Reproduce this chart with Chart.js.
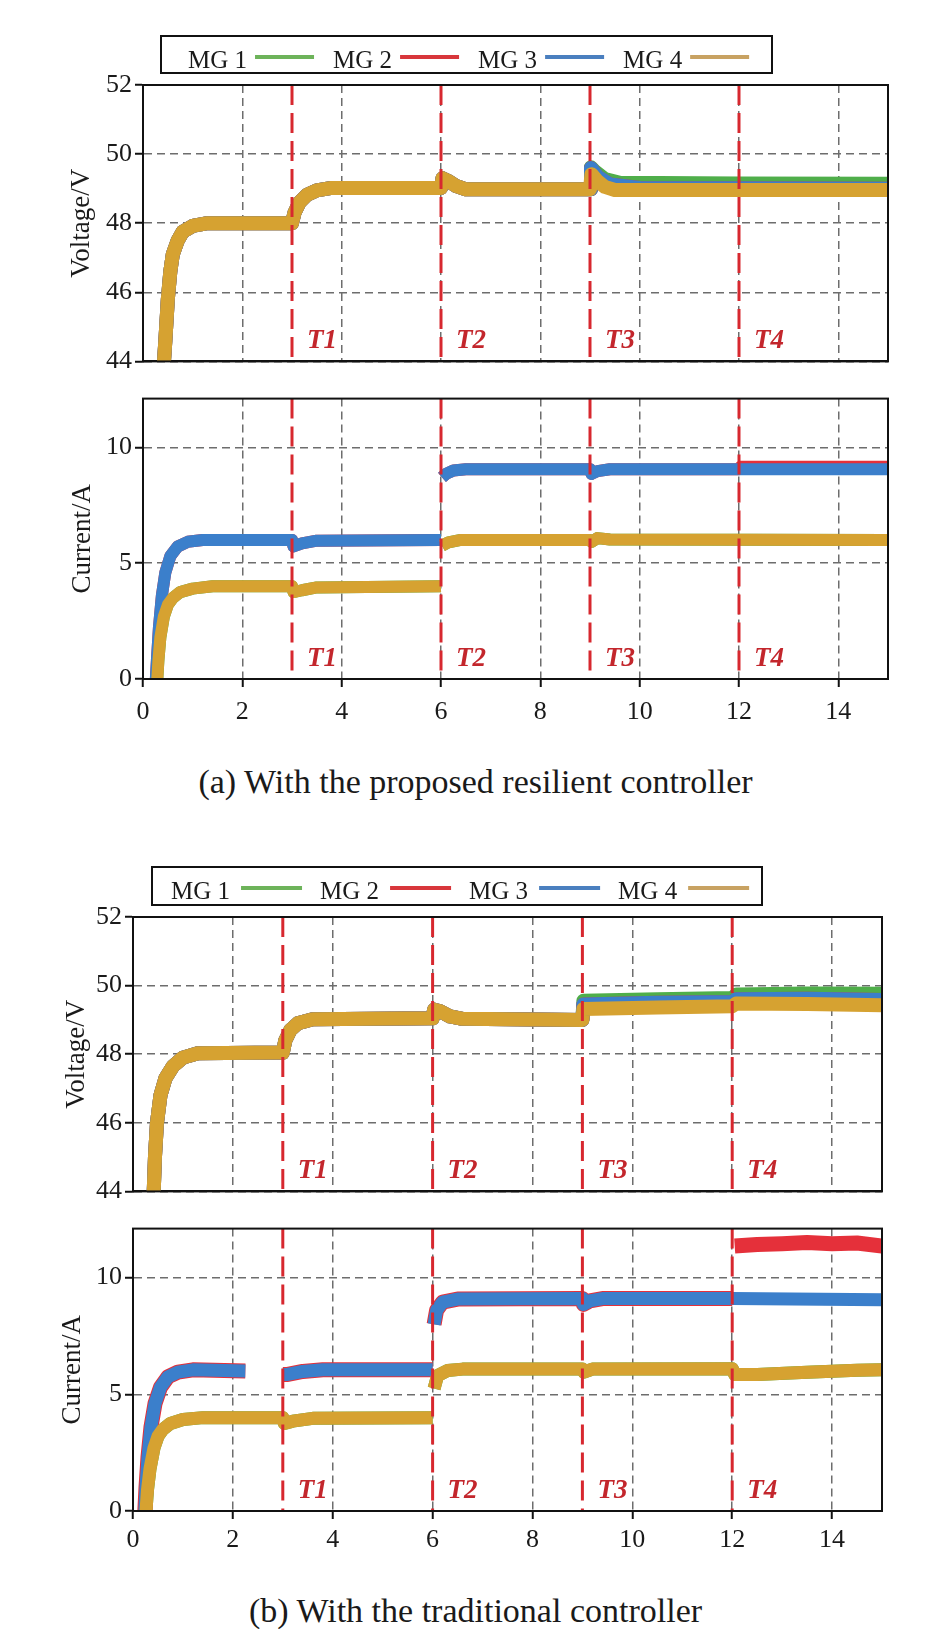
<!DOCTYPE html>
<html>
<head>
<meta charset="utf-8">
<script src="https://cdn.jsdelivr.net/npm/chart.js@4.4.1/dist/chart.umd.min.js"></script>
<style>
  body { margin: 0; background: #fff; width: 951px; height: 1629px; position: relative; }
  .box { position: absolute; left: 0; width: 951px; }
  .cap { position: absolute; left: 0; width: 951px; text-align: center; font-family: "Liberation Serif", "Times New Roman", serif;
         font-size: 34px; line-height: 40px; color: #1a1a1a; }
</style>
</head>
<body>
<div class="box" style="top:0px;height:380px"><canvas id="aV" width="951" height="380"></canvas></div>
<div class="box" style="top:380px;height:345px"><canvas id="aI" width="951" height="345"></canvas></div>
<div class="cap" style="top:762px">(a) With the proposed resilient controller</div>
<div class="box" style="top:830px;height:380px"><canvas id="bV" width="951" height="380"></canvas></div>
<div class="box" style="top:1210px;height:345px"><canvas id="bI" width="951" height="345"></canvas></div>
<div class="cap" style="top:1591px">(b) With the traditional controller</div>

<script>
// ---- data (time in s, value) ----
const seriesNames = ["MG 1", "MG 2", "MG 3", "MG 4"];
const eventTimes = [3, 6, 9, 12];
const eventLabels = ["T1", "T2", "T3", "T4"];
const xTickValues = [0, 2, 4, 6, 8, 10, 12, 14];
const voltTickValues = [44, 46, 48, 50, 52];
const currTickValues = [0, 5, 10];

// (a) proposed controller - voltage
const aVoltMG4 = [[0.40,43.5],[0.45,44.6],[0.50,45.8],[0.55,46.6],[0.60,47.1],[0.70,47.5],[0.80,47.75],[1.0,47.92],[1.3,48.0],[3.0,48.0],
  [3.05,48.3],[3.15,48.6],[3.3,48.82],[3.5,48.95],[3.8,49.02],[6.0,49.02],[6.03,49.3],[6.15,49.22],[6.3,49.08],[6.5,48.98],[9.0,48.98],
  [9.03,49.42],[9.15,49.22],[9.3,49.05],[9.5,48.96],[15,48.96]];
const aVoltMG3 = [[0.40,43.5],[0.45,44.6],[0.50,45.8],[0.55,46.6],[0.60,47.1],[0.70,47.5],[0.80,47.75],[1.0,47.92],[1.3,48.0],[3.0,48.0],
  [3.05,48.3],[3.15,48.6],[3.3,48.82],[3.5,48.95],[3.8,49.02],[6.0,49.02],[6.03,49.3],[6.15,49.22],[6.3,49.08],[6.5,48.98],[9.0,48.98],
  [9.02,49.6],[9.15,49.35],[9.4,49.12],[10,49.02],[15,49.0]];
const aVoltMG2 = aVoltMG3;
const aVoltMG1 = [[0.40,43.5],[0.45,44.6],[0.50,45.8],[0.55,46.6],[0.60,47.1],[0.70,47.5],[0.80,47.75],[1.0,47.92],[1.3,48.0],[3.0,48.0],
  [3.05,48.3],[3.15,48.6],[3.3,48.82],[3.5,48.95],[3.8,49.02],[6.0,49.02],[6.03,49.3],[6.15,49.22],[6.3,49.08],[6.5,48.98],[9.0,48.98],
  [9.02,49.62],[9.1,49.5],[9.3,49.28],[9.6,49.17],[12,49.15],[15,49.14]];

// (a) proposed controller - current
const aCurrMG3 = [[0.25,-0.3],[0.28,0.8],[0.32,2.2],[0.38,3.6],[0.45,4.6],[0.55,5.3],[0.7,5.72],[0.9,5.92],[1.2,6.0],[3.0,6.0],
  [3.03,5.72],[3.2,5.85],[3.5,5.97],[6.0,6.0],[6.01,null],[6.02,8.7],[6.1,8.85],[6.25,9.0],[6.5,9.05],[9.0,9.05],
  [9.03,8.85],[9.15,8.97],[9.4,9.05],[15,9.05]];
const aCurrMG2 = [[0.25,-0.3],[0.28,0.8],[0.32,2.2],[0.38,3.6],[0.45,4.6],[0.55,5.3],[0.7,5.72],[0.9,5.92],[1.2,6.0],[3.0,6.0],
  [3.03,5.72],[3.2,5.85],[3.5,5.97],[6.0,6.0],[6.01,null],[6.02,8.7],[6.1,8.85],[6.25,9.0],[6.5,9.05],[9.0,9.05],
  [9.03,8.85],[9.15,8.97],[9.4,9.05],[12.0,9.05],[12.03,9.16],[15,9.16]];
const aCurrMG4 = [[0.28,-0.3],[0.31,0.8],[0.35,1.8],[0.42,2.7],[0.5,3.2],[0.6,3.5],[0.75,3.75],[1.0,3.9],[1.4,4.0],[3.0,4.0],
  [3.03,3.75],[3.2,3.83],[3.5,3.95],[6.0,4.0],[6.01,null],[6.02,5.75],[6.15,5.9],[6.4,6.0],[9.0,6.0],
  [9.03,5.92],[9.15,6.08],[9.4,6.02],[15,6.0]];
const aCurrMG1 = aCurrMG4;

// (b) traditional controller - voltage
const bVoltMG4 = [[0.41,43.8],[0.44,45.0],[0.48,46.0],[0.55,46.8],[0.65,47.3],[0.8,47.65],[1.0,47.9],[1.3,48.03],[3.0,48.05],
  [3.05,48.4],[3.15,48.7],[3.3,48.9],[3.6,49.02],[6.0,49.05],[6.03,49.3],[6.15,49.25],[6.35,49.1],[6.6,49.03],[9.0,49.0],
  [9.02,49.32],[10.5,49.36],[12.0,49.4],[12.08,49.48],[13.5,49.46],[15,49.43]];
const bVoltMG3 = [[0.41,43.8],[0.44,45.0],[0.48,46.0],[0.55,46.8],[0.65,47.3],[0.8,47.65],[1.0,47.9],[1.3,48.03],[3.0,48.05],
  [3.05,48.4],[3.15,48.7],[3.3,48.9],[3.6,49.02],[6.0,49.05],[6.03,49.3],[6.15,49.25],[6.35,49.1],[6.6,49.03],[9.0,49.0],
  [9.02,49.45],[10.5,49.5],[12.0,49.52],[12.08,49.6],[13.5,49.62],[15,49.58]];
const bVoltMG2 = bVoltMG3;
const bVoltMG1 = [[0.41,43.8],[0.44,45.0],[0.48,46.0],[0.55,46.8],[0.65,47.3],[0.8,47.65],[1.0,47.9],[1.3,48.03],[3.0,48.05],
  [3.05,48.4],[3.15,48.7],[3.3,48.9],[3.6,49.02],[6.0,49.05],[6.03,49.3],[6.15,49.25],[6.35,49.1],[6.6,49.03],[9.0,49.0],
  [9.02,49.56],[10.5,49.6],[12.0,49.64],[12.08,49.74],[13.5,49.77],[15,49.76]];

// (b) traditional controller - current (MG 3 drops out between ~2.2 s and T1)
const bCurrMG3 = [[0.23,-0.3],[0.26,1.0],[0.3,2.3],[0.36,3.6],[0.44,4.6],[0.55,5.3],[0.7,5.75],[0.9,5.95],[1.2,6.05],[2.25,6.0],
  [2.6,null],[3.0,5.85],[3.1,5.85],[3.4,5.98],[3.8,6.05],[6.0,6.05],[6.01,null],[6.03,8.0],[6.08,8.6],[6.2,8.95],[6.5,9.08],
  [9.0,9.1],[9.02,8.85],[9.15,9.0],[9.4,9.1],[12,9.1],[15,9.05]];
const bCurrMG2 = [[0.23,-0.3],[0.26,1.0],[0.3,2.3],[0.36,3.6],[0.44,4.6],[0.55,5.3],[0.7,5.75],[0.9,5.95],[1.2,6.05],[2.25,6.0],
  [2.6,null],[3.0,5.85],[3.1,5.85],[3.4,5.98],[3.8,6.05],[6.0,6.05],[6.01,null],[6.03,8.0],[6.08,8.6],[6.2,8.95],[6.5,9.08],
  [9.0,9.1],[9.02,8.85],[9.15,9.0],[9.4,9.1],[12,9.1],[12.02,null],
  [12.05,11.35],[12.5,11.42],[13,11.45],[13.5,11.5],[14,11.45],[14.5,11.48],[15,11.35]];
const bCurrMG4 = [[0.25,-0.3],[0.29,0.9],[0.34,1.8],[0.42,2.7],[0.5,3.2],[0.6,3.5],[0.75,3.75],[1.0,3.92],[1.4,4.0],[3.0,4.0],
  [3.03,3.75],[3.2,3.85],[3.6,3.97],[6.0,4.0],[6.01,null],[6.03,5.25],[6.1,5.8],[6.3,6.02],[6.6,6.08],[9.0,6.08],
  [9.03,5.95],[9.2,6.08],[12.0,6.1],[12.05,5.85],[12.5,5.85],[13.5,5.95],[14.5,6.03],[15,6.05]];
const bCurrMG1 = bCurrMG4;

// ---- styling ----
const FONT = '"Liberation Serif", "Times New Roman", serif';
const seriesColors = ["#4fae4a", "#e5303a", "#3b7fcb", "#d6a231"];
const legendColors = ["#6db35a", "#d8363b", "#4a7fbf", "#c8a262"];
const seriesOrder = [3, 2, 1, 0]; // MG 4 on top
const gridColor = "#6d6d6d";
const eventColor = "#d7282f";

Chart.defaults.font.family = FONT;

const toXY = arr => arr.map(([x, y]) => ({ x, y }));

const frame = {
  id: "frame",
  afterDatasetsDraw(chart) {
    const { ctx, chartArea: a } = chart;
    ctx.save();
    ctx.strokeStyle = "#111";
    ctx.lineWidth = 2;
    ctx.strokeRect(a.left, a.top, a.right - a.left, a.bottom - a.top);
    ctx.restore();
  }
};

const eventMarks = {
  id: "eventMarks",
  afterDatasetsDraw(chart) {
    const { ctx, chartArea: a } = chart;
    const xs = chart.scales.x;
    ctx.save();
    ctx.font = "bold italic 27px " + FONT;
    ctx.fillStyle = "#c3262c";
    ctx.textBaseline = "alphabetic";
    eventTimes.forEach((t, i) => {
      ctx.fillText(eventLabels[i], xs.getPixelForValue(t) + 15, a.bottom - 13);
    });
    ctx.restore();
  }
};

const mgLegend = {
  id: "mgLegend",
  afterDraw(chart, args, o) {
    if (!o || !o.show) return;
    const ctx = chart.ctx;
    ctx.save();
    ctx.strokeStyle = "#111";
    ctx.lineWidth = 2;
    ctx.strokeRect(o.left, o.top, o.width, o.height);
    ctx.font = "25px " + FONT;
    ctx.fillStyle = "#1a1a1a";
    ctx.textBaseline = "alphabetic";
    let x = o.left + o.inset;
    seriesNames.forEach((name, i) => {
      ctx.fillText(name, x, o.top + 32);
      x += ctx.measureText(name).width + o.textGap;
      ctx.strokeStyle = legendColors[i];
      ctx.lineWidth = 4;
      ctx.beginPath();
      ctx.moveTo(x, o.top + 21);
      ctx.lineTo(x + o.lineLen, o.top + 21);
      ctx.stroke();
      x += o.lineLen + o.itemGap;
    });
    ctx.restore();
  }
};

function buildChart(id, cfg) {
  const datasets = cfg.series.map((d, i) => ({
    label: seriesNames[i],
    data: toXY(d),
    borderColor: seriesColors[i],
    borderWidth: cfg.band[i],
    order: seriesOrder[i],
    pointRadius: 0,
    tension: 0,
    spanGaps: false,
    borderJoinStyle: "round",
    clip: 0
  }));
  eventTimes.forEach(t => {
    datasets.push({
      label: "",
      data: [{ x: t, y: cfg.yMax }, { x: t, y: cfg.yMin }],
      borderColor: eventColor,
      borderWidth: 3,
      borderDash: [20, 8],
      order: -1,
      pointRadius: 0,
      clip: 0
    });
  });

  const tickFont = { family: FONT, size: 26 };
  return new Chart(document.getElementById(id), {
    type: "line",
    data: { datasets },
    plugins: [frame, eventMarks, mgLegend],
    options: {
      responsive: false,
      animation: false,
      events: [],
      layout: { padding: cfg.padding },
      plugins: {
        legend: { display: false },
        tooltip: { enabled: false },
        mgLegend: cfg.legend || { show: false }
      },
      scales: {
        x: {
          type: "linear",
          min: 0,
          max: 15,
          afterBuildTicks: s => { s.ticks = xTickValues.map(v => ({ value: v })); },
          afterFit: s => { s.height = cfg.xHeight; },
          ticks: { display: cfg.showX, font: tickFont, color: "#1a1a1a", padding: cfg.xPad || 5, maxRotation: 0 },
          grid: { color: gridColor, lineWidth: 1.5, drawTicks: cfg.showX, tickLength: 8, tickColor: "#111", tickWidth: 2, tickBorderDash: [] },
          border: { display: true, color: "#111", width: 2, dash: [8, 5] }
        },
        y: {
          min: cfg.yMin,
          max: cfg.yMax,
          afterBuildTicks: s => { s.ticks = cfg.yTicks.map(v => ({ value: v })); },
          afterFit: s => { s.width = cfg.yWidth; },
          ticks: { font: tickFont, color: "#1a1a1a", padding: 3 },
          grid: { color: gridColor, lineWidth: 1.5, tickLength: 8, tickColor: "#111", tickWidth: 2, tickBorderDash: [] },
          border: { display: true, color: "#111", width: 2, dash: [8, 5] },
          title: { display: true, text: cfg.yTitle, color: "#1a1a1a", font: { family: FONT, size: 27 }, padding: { top: cfg.titlePad, bottom: 0 } }
        }
      }
    }
  });
}

buildChart("aV", {
  series: [aVoltMG1, aVoltMG2, aVoltMG3, aVoltMG4], band: [14, 14, 14, 14],
  yMin: 44, yMax: 52, yTicks: voltTickValues, yTitle: "Voltage/V", titlePad: 66,
  yWidth: 143, xHeight: 15, showX: false, padding: { top: 85, right: 63, left: 0, bottom: 0 },
  legend: { show: true, left: 161, top: 36, width: 611, height: 37, inset: 27, textGap: 8, lineLen: 59, itemGap: 19 }
});
buildChart("aI", {
  series: [aCurrMG1, aCurrMG2, aCurrMG3, aCurrMG4], band: [12, 12, 12, 12],
  yMin: 0, yMax: 12.1, yTicks: currTickValues, yTitle: "Current/A", titlePad: 67,
  yWidth: 143, xHeight: 46, showX: true, xPad: 10, padding: { top: 16, right: 63, left: 0, bottom: 0 }
});
buildChart("bV", {
  series: [bVoltMG1, bVoltMG2, bVoltMG3, bVoltMG4], band: [14, 14, 14, 14],
  yMin: 44, yMax: 52, yTicks: voltTickValues, yTitle: "Voltage/V", titlePad: 61,
  yWidth: 133, xHeight: 13, showX: false, padding: { top: 87, right: 69, left: 0, bottom: 0 },
  legend: { show: true, left: 152, top: 37, width: 610, height: 38, inset: 19, textGap: 11, lineLen: 61, itemGap: 18 }
});
buildChart("bI", {
  series: [bCurrMG1, bCurrMG2, bCurrMG3, bCurrMG4], band: [13, 15, 13, 13],
  yMin: 0, yMax: 12.1, yTicks: currTickValues, yTitle: "Current/A", titlePad: 57,
  yWidth: 133, xHeight: 44, showX: true, xPad: 6, padding: { top: 18, right: 69, left: 0, bottom: 0 }
});
</script>
</body>
</html>
